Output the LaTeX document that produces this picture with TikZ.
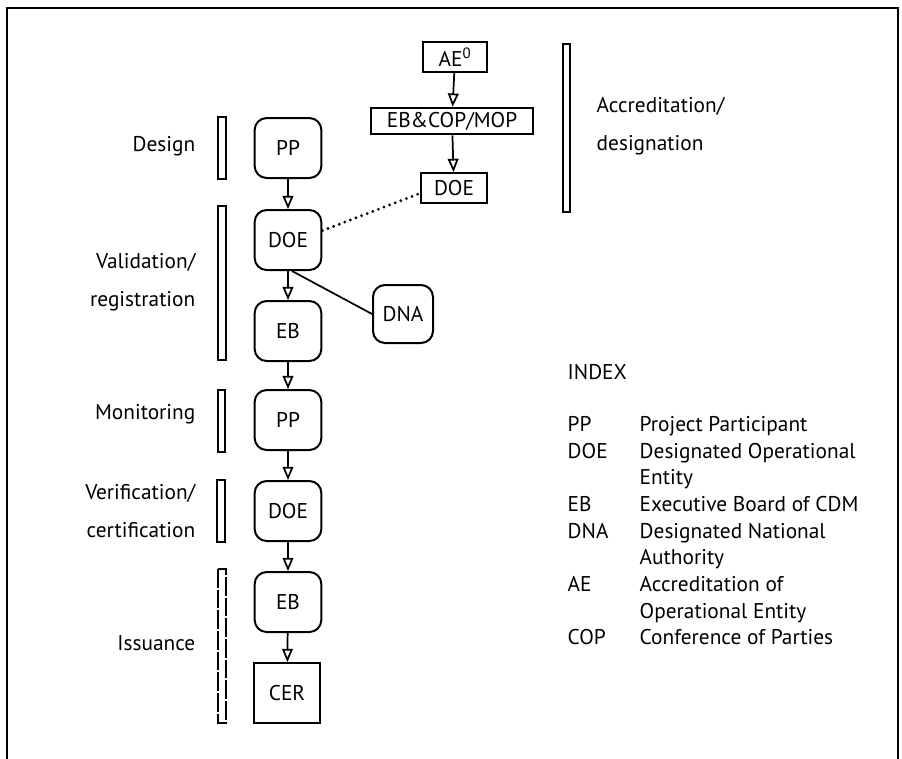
\documentclass[tikz,border=0pt]{standalone}
\usepackage{fontspec}
\setmainfont{PT Sans}
\usetikzlibrary{shapes.geometric, arrows}

\begin{document}
\begin{tikzpicture}[x=0.75pt,y=-0.75pt,font=\fontsize{16}{28}\selectfont]
	\tikzstyle{Step} = [rectangle, rounded corners=9pt, minimum width=50pt, minimum height=45pt, text centered, draw=black, line width=1.5pt]
	\tikzstyle{Box} = [rectangle, text centered, draw=black, line width=1.5pt, inner sep=2pt]
	\tikzstyle{Phase} = [anchor=east, align=right]
	\tikzstyle{Bar} = [draw=black, line width=1pt]
	\tikzstyle{arrow} = [line width=1.3pt,->,>=open triangle 45]
	
	\useasboundingbox (0,0) rectangle (902,758);
	\draw [line width=1.5pt] (7,770) -- (7,8) -- (898,8) -- (898,770);
	
	% accreditation of the entity
	\node (aeNode) [Box, minimum width=48pt, minimum height=22pt] at (455,57) {AE\textsuperscript{0}};
	\node (ebcopNode) [Box, minimum width=121pt, minimum height=20pt] at (452,121) {EB\&COP/MOP};
	\node (doeTopNode) [Box, minimum width=49.5pt, minimum height=22.5pt] at (454,188) {DOE};
	\draw [arrow] (aeNode) -- (ebcopNode);
	\draw [arrow] (ebcopNode) -- (doeTopNode);
	\draw [Bar] (563,44) rectangle (570,212);
	\node [anchor=west, align=left] at (592,126) {Accreditation/\\designation};
	
	% project cycle
	\node (ppNode) [Step] at (288,148) {PP};
	\node (doeNode) [Step] at (288,240) {DOE};
	\node (ebNode) [Step] at (288,331) {EB};
	\node (ppMonNode) [Step] at (288,420) {PP};
	\node (doeVerNode) [Step] at (288,511) {DOE};
	\node (ebIssNode) [Step] at (288,602) {EB};
	\node (cerNode) [Box, minimum width=50pt, minimum height=45pt] at (287,693) {CER};
	\node (dnaNode) [Step, minimum width=45pt, minimum height=43.5pt] at (403,314) {DNA};
	\draw [arrow] (ppNode) -- (doeNode);
	\draw [arrow] (doeNode) -- (ebNode);
	\draw [arrow] (ebNode) -- (ppMonNode);
	\draw [arrow] (ppMonNode) -- (doeVerNode);
	\draw [arrow] (doeVerNode) -- (ebIssNode);
	\draw [arrow] (ebIssNode) -- (cerNode);
	\draw [line width=1.3pt] ([xshift=3pt]doeNode.south) -- (dnaNode.west);
	\draw [line width=2.4pt, line cap=round, dash pattern=on 0pt off 4.5pt] ([yshift=7pt]doeNode.east) -- ([yshift=-4pt]doeTopNode.west);
	
	% phases
	\node [Phase] at (200,146) {Design};
	\draw [Bar] (218,117) rectangle (226,179);
	\node [Phase] at (200,282) {Validation/\\registration};
	\draw [Bar] (218,206) rectangle (226,360);
	\node [Phase] at (200,414) {Monitoring};
	\draw [Bar] (218,390) rectangle (225,452);
	\node [Phase] at (200,511) {Verification/\\certification};
	\draw [Bar] (217,480) rectangle (225,542);
	\node [Phase] at (200,643) {Issuance};
	\draw [Bar, dash pattern=on 14pt off 1.5pt] (218,569) rectangle (226,723);
	
	% index
	\node [anchor=base west] at (563,379) {INDEX};
	\foreach \y/\abbr/\text in {425/PP/Project Participant, 452/DOE/Designated Operational, 478//Entity, 505/EB/Executive Board of CDM, 532/DNA/Designated National, 558//Authority, 585/AE/Accreditation of, 612//Operational Entity, 638/COP/Conference of Parties}{
		\node [anchor=base west] at (563,\y+6) {\abbr};
		\node [anchor=base west] at (635,\y+6) {\text};
	}
\end{tikzpicture}
\end{document}
